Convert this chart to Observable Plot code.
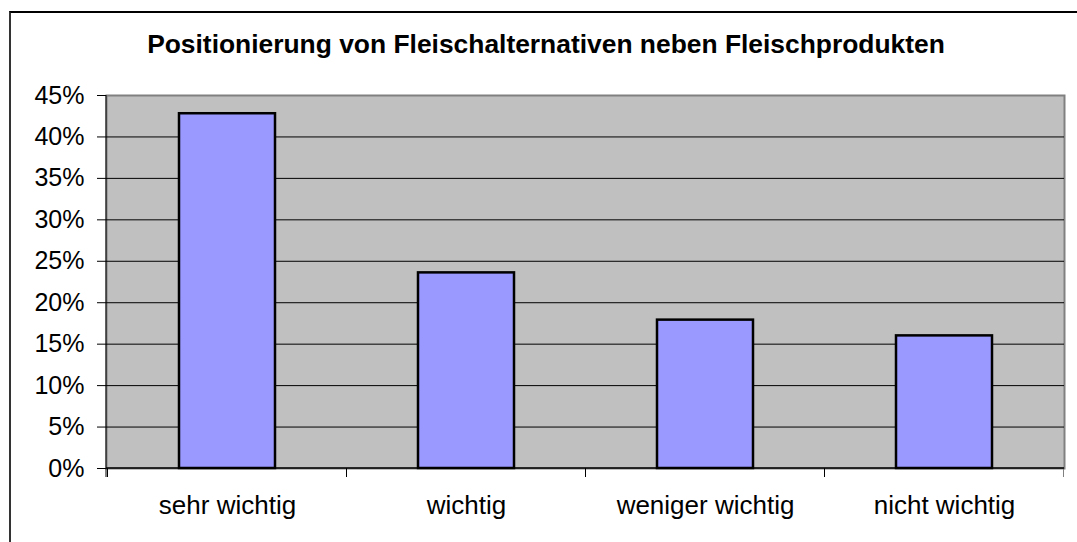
<!DOCTYPE html>
<html>
<head>
<meta charset="utf-8">
<script src="https://cdn.jsdelivr.net/npm/d3@7"></script>
<script src="https://cdn.jsdelivr.net/npm/@observablehq/plot@0.6"></script>
<style>
  html, body { margin: 0; padding: 0; background: #fff; overflow: hidden; }
  #wrap { position: relative; width: 1077px; height: 542px; overflow: hidden; font-family: "Liberation Sans", Arial, sans-serif; }
  #border { position: absolute; left: 9px; top: 11px; width: 1200px; height: 700px; border-left: 2px solid #333; border-top: 2px solid #000; box-sizing: border-box; pointer-events: none; }
  #title { height: 60px; box-sizing: border-box; padding-top: 29px; padding-left: 15px; line-height: 30px; font-size: 26.4px; font-weight: bold; text-align: center; color: #000; white-space: nowrap; }
  svg { display: block; }
</style>
</head>
<body>
<div id="wrap">
  <div id="title">Positionierung von Fleischalternativen neben Fleischprodukten</div>
  <div id="chart"></div>
  <div id="border"></div>
</div>
<script>
const categories = ["sehr wichtig", "wichtig", "weniger wichtig", "nicht wichtig"];
const shares = [0.428, 0.236, 0.179, 0.160];
const yTicks = [0, 0.05, 0.10, 0.15, 0.20, 0.25, 0.30, 0.35, 0.40, 0.45];
const gridTicks = yTicks.filter(t => t > 0 && t < 0.45);

const data = categories.map((c, i) => ({category: c, share: shares[i]}));

// custom mark: left axis line and x boundary ticks, derived from scales/dimensions
function axisDecor(index, scales, values, dimensions) {
  const x = scales.x;
  const step = x(categories[1]) - x(categories[0]);
  const bw = x.bandwidth ? x.bandwidth() : step * 0.4;
  const inner = step - bw;
  const left = dimensions.marginLeft;
  const right = dimensions.width - dimensions.marginRight;
  const top = dimensions.marginTop;
  const bottom = dimensions.height - dimensions.marginBottom;
  const g = d3.create("svg:g");
  const bounds = categories.map(c => x(c) - inner / 2);
  bounds.push(x(categories[categories.length - 1]) + bw + inner / 2);
  for (const b of bounds) {
    g.append("line").attr("x1", b).attr("x2", b).attr("y1", bottom).attr("y2", bottom + 9)
      .attr("stroke", b > right - 2 ? "#808080" : "#000").attr("stroke-width", 1);
  }
  g.append("line").attr("x1", left).attr("x2", left).attr("y1", top).attr("y2", bottom + 9)
    .attr("stroke", "#000").attr("stroke-width", 1);
  g.append("line").attr("x1", left).attr("x2", right).attr("y1", bottom).attr("y2", bottom)
    .attr("stroke", "#000").attr("stroke-width", 1.5);
  return g.node();
}

const chart = Plot.plot({
  width: 1077,
  height: 482,
  marginLeft: 106,
  marginRight: 13,
  marginTop: 35,
  marginBottom: 74,
  style: {fontFamily: "'Liberation Sans', Arial, sans-serif", fontSize: "26px", color: "#000", background: "transparent"},
  x: {domain: categories, paddingInner: 0.6, paddingOuter: 0.3, label: null},
  y: {domain: [0, 0.45], label: null},
  marks: [
    Plot.frame({fill: "#C0C0C0", stroke: "#808080", strokeWidth: 2}),
    Plot.ruleY(gridTicks, {stroke: "#000", strokeWidth: 1}),
    Plot.barY(data, {x: "category", y: "share", fill: "#9999FF", stroke: "#000", strokeWidth: 2.5}),
    axisDecor,
    Plot.axisY({ticks: yTicks, tickFormat: d3.format(".0%"), tickSize: 9, tickPadding: 13, label: null, stroke: "#000", fontSize: 25}),
    Plot.axisX({tickSize: 0, tickPadding: 27, label: null, fontSize: 26})
  ]
});
document.getElementById("chart").appendChild(chart);
</script>
</body>
</html>
